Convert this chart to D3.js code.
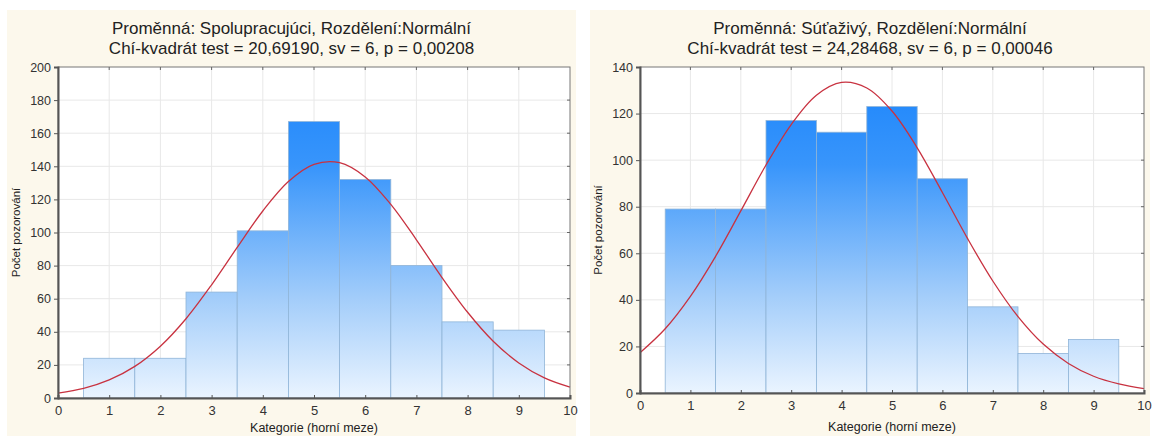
<!DOCTYPE html>
<html>
<head>
<meta charset="utf-8">
<script src="https://cdn.jsdelivr.net/npm/d3@7"></script>
<style>
  body { margin: 0; background: #fff; }
  svg { display: block; font-family: "Liberation Sans", Arial, sans-serif; }
</style>
</head>
<body>
<div id="graf"></div>
<script>
// --- datos ---
const kategorie = [1, 2, 3, 4, 5, 6, 7, 8, 9]
const xTicks = [0, 1, 2, 3, 4, 5, 6, 7, 8, 9, 10]

const spoluPocty = [24, 24, 64, 101, 167, 132, 80, 46, 41]
const sutazPocty = [79, 79, 117, 112, 123, 92, 37, 17, 23]

// body normální křivky (x po 0,5)
const krivkaX = [0, 0.5, 1, 1.5, 2, 2.5, 3, 3.5, 4, 4.5, 5, 5.5, 6, 6.5, 7, 7.5, 8, 8.5, 9, 9.5, 10]
const spoluKrivka = [3, 5.8, 10.9, 19.1, 31.3, 47.9, 68.4, 91, 113, 130.8, 141.2, 142.2, 133.6, 117, 95.6, 72.8, 51.8, 34.3, 21.2, 12.2, 6.6]
const sutazKrivka = [17.3, 27.6, 41.5, 58.7, 78.2, 97.9, 115.3, 127.9, 133.4, 131, 121.1, 105.3, 86.1, 66.3, 48.1, 32.8, 21, 12.7, 7.2, 3.9, 1.9]

const spoluYTicks = [0, 20, 40, 60, 80, 100, 120, 140, 160, 180, 200]
const sutazYTicks = [0, 20, 40, 60, 80, 100, 120, 140]

const panely = [
  {
    id: "a",
    titul1: "Proměnná: Spolupracujúci, Rozdělení:Normální",
    titul2: "Chí-kvadrát test = 20,69190, sv = 6, p = 0,00208",
    pocty: spoluPocty, krivka: spoluKrivka, yTicks: spoluYTicks, yMax: 200,
    box: { x: 7, y: 10, w: 569, h: 426 },
    plot: { left: 58, top: 67, right: 570, bottom: 398 },
    yTitleX: 20, xTitleY: 432
  },
  {
    id: "b",
    titul1: "Proměnná: Súťaživý, Rozdělení:Normální",
    titul2: "Chí-kvadrát test = 24,28468, sv = 6, p = 0,00046",
    pocty: sutazPocty, krivka: sutazKrivka, yTicks: sutazYTicks, yMax: 140,
    box: { x: 590, y: 10, w: 560, h: 426 },
    plot: { left: 640, top: 67, right: 1144, bottom: 393 },
    yTitleX: 602, xTitleY: 431
  }
]

const svg = d3.select("#graf").append("svg")
  .attr("width", 1152).attr("height", 436)

const defs = svg.append("defs")

const drawPanel = (p) => {
  const w = p.plot.right - p.plot.left
  const h = p.plot.bottom - p.plot.top

  const grad = defs.append("linearGradient")
    .attr("id", "grad-" + p.id)
    .attr("gradientUnits", "userSpaceOnUse")
    .attr("x1", 0).attr("x2", 0)
    .attr("y1", p.plot.top).attr("y2", p.plot.bottom)
  grad.append("stop").attr("offset", "0").attr("stop-color", "#1a84fb")
  grad.append("stop").attr("offset", "0.3").attr("stop-color", "#3895fb")
  grad.append("stop").attr("offset", "0.7").attr("stop-color", "#a3cdfa")
  grad.append("stop").attr("offset", "1").attr("stop-color", "#eaf4ff")

  svg.append("rect")
    .attr("x", p.box.x).attr("y", p.box.y)
    .attr("width", p.box.w).attr("height", p.box.h)
    .attr("fill", "#fcf8ec")

  const x = d3.scaleLinear().domain([0, 10]).range([p.plot.left, p.plot.right])
  const y = d3.scaleLinear().domain([0, p.yMax]).range([p.plot.bottom, p.plot.top])

  svg.append("rect")
    .attr("x", p.plot.left).attr("y", p.plot.top)
    .attr("width", w).attr("height", h)
    .attr("fill", "#fff")

  // mřížka
  const grid = svg.append("g").attr("stroke", "#e8e8e8").attr("stroke-width", 1)
  grid.selectAll(".gx").data(xTicks.slice(1, -1)).join("line")
    .attr("x1", d => x(d)).attr("x2", d => x(d))
    .attr("y1", p.plot.top).attr("y2", p.plot.bottom)
  grid.selectAll(".gy").data(p.yTicks.slice(1, -1)).join("line")
    .attr("x1", p.plot.left).attr("x2", p.plot.right)
    .attr("y1", d => y(d)).attr("y2", d => y(d))

  // sloupce
  svg.append("g").selectAll("rect")
    .data(kategorie.map((k, i) => ({ k, n: p.pocty[i] })))
    .join("rect")
    .attr("x", d => x(d.k - 0.5))
    .attr("y", d => y(d.n))
    .attr("width", d => x(d.k + 0.5) - x(d.k - 0.5))
    .attr("height", d => y(0) - y(d.n))
    .attr("fill", "url(#grad-" + p.id + ")")
    .attr("stroke", "#8fb4d8")
    .attr("stroke-width", 0.8)

  // křivka
  const line = d3.line()
    .x((d, i) => x(krivkaX[i]))
    .y(d => y(d))
    .curve(d3.curveCatmullRom)
  svg.append("path")
    .datum(p.krivka)
    .attr("d", line)
    .attr("fill", "none")
    .attr("stroke", "#c83240")
    .attr("stroke-width", 1.3)

  // rámeček
  svg.append("rect")
    .attr("x", p.plot.left).attr("y", p.plot.top)
    .attr("width", w).attr("height", h)
    .attr("fill", "none").attr("stroke", "#777").attr("stroke-width", 1)

  // osy
  const xAxis = svg.append("g")
    .attr("transform", `translate(0, ${p.plot.bottom})`)
    .call(d3.axisBottom(x).tickValues(xTicks).tickSize(-3).tickPadding(8))
  xAxis.select(".domain").attr("stroke", "#555").attr("stroke-width", 2)
  xAxis.selectAll(".tick line").attr("stroke", "#555")
  xAxis.selectAll("text").attr("font-size", 13).attr("fill", "#333")
    .attr("font-family", "'Liberation Sans', Arial, sans-serif")

  const yAxis = svg.append("g")
    .attr("transform", `translate(${p.plot.left}, 0)`)
    .call(d3.axisLeft(y).tickValues(p.yTicks).tickSize(4).tickPadding(3))
  yAxis.select(".domain").attr("stroke", "#555").attr("stroke-width", 2)
  yAxis.selectAll(".tick line").attr("stroke", "#555")
  yAxis.selectAll("text").attr("font-size", 12.5).attr("fill", "#333")
    .attr("font-family", "'Liberation Sans', Arial, sans-serif")

  // vnitřní značky nahoře a vpravo
  svg.append("g").selectAll("line").data(xTicks.slice(1, -1)).join("line")
    .attr("x1", d => x(d)).attr("x2", d => x(d))
    .attr("y1", p.plot.top).attr("y2", p.plot.top + 3)
    .attr("stroke", "#666")
  svg.append("g").selectAll("line").data(p.yTicks.slice(1, -1)).join("line")
    .attr("x1", p.plot.right - 3).attr("x2", p.plot.right)
    .attr("y1", d => y(d)).attr("y2", d => y(d))
    .attr("stroke", "#666")

  // titulky
  const cx = p.box.x + p.box.w / 2
  svg.append("text").attr("x", cx).attr("y", 34)
    .attr("text-anchor", "middle").attr("font-size", 17).attr("fill", "#222")
    .text(p.titul1)
  svg.append("text").attr("x", cx).attr("y", 54)
    .attr("text-anchor", "middle").attr("font-size", 17).attr("fill", "#222")
    .text(p.titul2)

  svg.append("text")
    .attr("transform", `translate(${p.yTitleX}, ${(p.plot.top + p.plot.bottom) / 2}) rotate(-90)`)
    .attr("text-anchor", "middle").attr("font-size", 11.5).attr("fill", "#222")
    .text("Počet pozorování")

  svg.append("text")
    .attr("x", (p.plot.left + p.plot.right) / 2).attr("y", p.xTitleY)
    .attr("text-anchor", "middle").attr("font-size", 12.5).attr("fill", "#222")
    .text("Kategorie (horní meze)")
}

panely.forEach(drawPanel)
</script>
</body>
</html>
